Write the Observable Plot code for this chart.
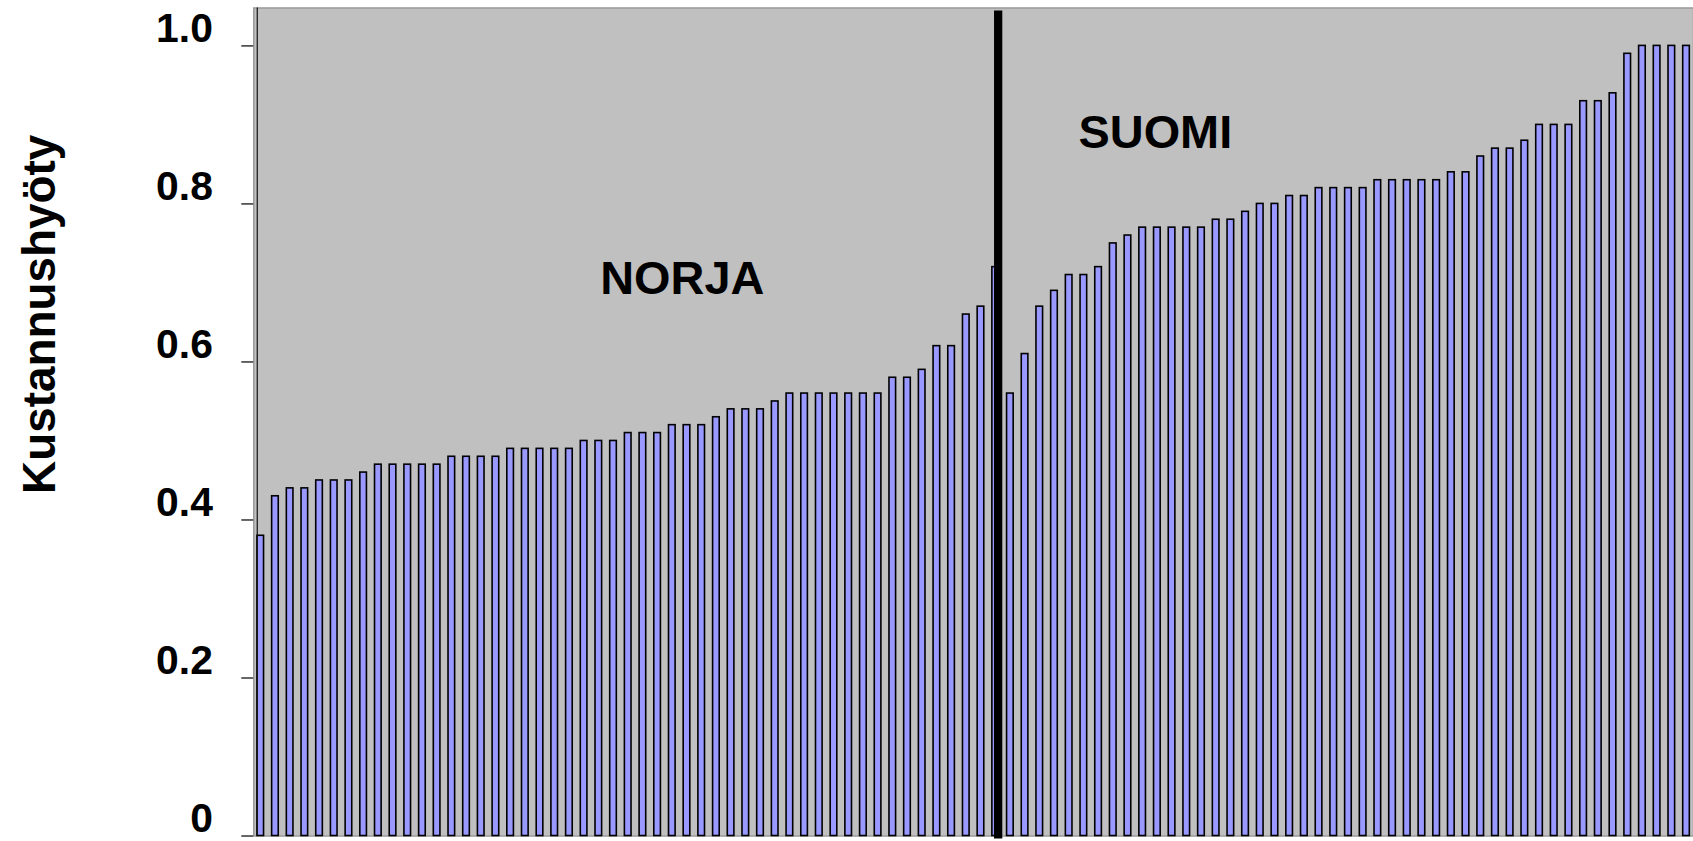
<!DOCTYPE html>
<html>
<head>
<meta charset="utf-8">
<script src="https://cdn.jsdelivr.net/npm/d3@7"></script>
<script src="https://cdn.jsdelivr.net/npm/@observablehq/plot@0.6"></script>
<style>
html, body { margin: 0; padding: 0; background: #ffffff; overflow: hidden; }
#chart { width: 1693px; height: 841px; overflow: hidden; }
</style>
</head>
<body>
<div id="chart"></div>
<script>
// Norway (sorted), last value is the bar hidden under the separator line
const norja = [0.38, 0.43, 0.44, 0.44, 0.45, 0.45, 0.45, 0.46, 0.47, 0.47,
  0.47, 0.47, 0.47, 0.48, 0.48, 0.48, 0.48, 0.49, 0.49, 0.49,
  0.49, 0.49, 0.50, 0.50, 0.50, 0.51, 0.51, 0.51, 0.52, 0.52,
  0.52, 0.53, 0.54, 0.54, 0.54, 0.55, 0.56, 0.56, 0.56, 0.56,
  0.56, 0.56, 0.56, 0.58, 0.58, 0.59, 0.62, 0.62, 0.66, 0.67, 0.72];
// Finland (sorted)
const suomi = [0.56, 0.61, 0.67, 0.69, 0.71, 0.71, 0.72, 0.75, 0.76, 0.77,
  0.77, 0.77, 0.77, 0.77, 0.78, 0.78, 0.79, 0.80, 0.80, 0.81,
  0.81, 0.82, 0.82, 0.82, 0.82, 0.83, 0.83, 0.83, 0.83, 0.83,
  0.84, 0.84, 0.86, 0.87, 0.87, 0.88, 0.90, 0.90, 0.90, 0.93,
  0.93, 0.94, 0.99, 1.00, 1.00, 1.00, 1.00];
const yTicks = [0, 0.2, 0.4, 0.6, 0.8, 1.0];
const yTickLabels = ["0", "0.2", "0.4", "0.6", "0.8", "1.0"];
const yTitle = "Kustannushyöty";
const countryLabels = ["NORJA", "SUOMI"];
const countryLabelPos = [29, 62];
const countryLabelY = [0.705, 0.89];

const table = [
  ...norja.map((v, i) => ({pos: i + 1, value: v, maa: "Norja"})),
  ...suomi.map((v, i) => ({pos: norja.length + i + 1, value: v, maa: "Suomi"}))
];
const positions = table.map(d => d.pos);
const labelRows = countryLabels.map((t, i) => ({label: t, pos: countryLabelPos[i], value: countryLabelY[i]}));

const font = "'Liberation Sans', Arial, Helvetica, sans-serif";

const chart = Plot.plot({
  width: 1698,
  height: 841,
  marginLeft: 254,
  marginRight: 0,
  marginTop: 7.5,
  marginBottom: 3,
  style: {fontFamily: font, fontWeight: "bold", background: "#ffffff", color: "#000", overflow: "visible"},
  x: {type: "band", domain: positions, paddingInner: 0.55, paddingOuter: 0.25, axis: null},
  y: {domain: [0, 1.048], axis: null, label: null},
  marks: [
    Plot.frame({fill: "#c0c0c0", stroke: "#9a9a9a", strokeWidth: 1.5}),
    Plot.barY(table, {x: "pos", y: "value", fill: "#9999ff", stroke: "#000000", strokeWidth: 1.6}),
    Plot.ruleX([positions[0]], {stroke: "#111", strokeWidth: 1.2, dx: -3.5}),
    Plot.ruleX([norja.length], {stroke: "#000", strokeWidth: 8.3, dx: 2.5, insetTop: 3, insetBottom: -3}),
    Plot.axisY({ticks: yTicks, tickSize: 12, tickFormat: () => "", label: null, stroke: "#333", strokeWidth: 1.5}),
    Plot.axisY({ticks: yTicks, tickSize: 0, tickPadding: 41, label: null, fontSize: 41, dy: -17,
      tickFormat: d => yTickLabels[yTicks.indexOf(d)], fill: "#000"}),
    Plot.text([yTitle], {text: d => d, frameAnchor: "left", rotate: -90, textAnchor: "middle",
      lineAnchor: "top", fontSize: 46, dx: -232, dy: -108, fill: "#000"}),
    Plot.text(labelRows.slice(0, 1), {x: "pos", y: "value", text: "label", fontSize: 47, dx: 10, fill: "#000"}),
    Plot.text(labelRows.slice(1, 2), {x: "pos", y: "value", text: "label", fontSize: 47, dx: -2, fill: "#000"})
  ]
});
document.getElementById("chart").appendChild(chart);
</script>
</body>
</html>
